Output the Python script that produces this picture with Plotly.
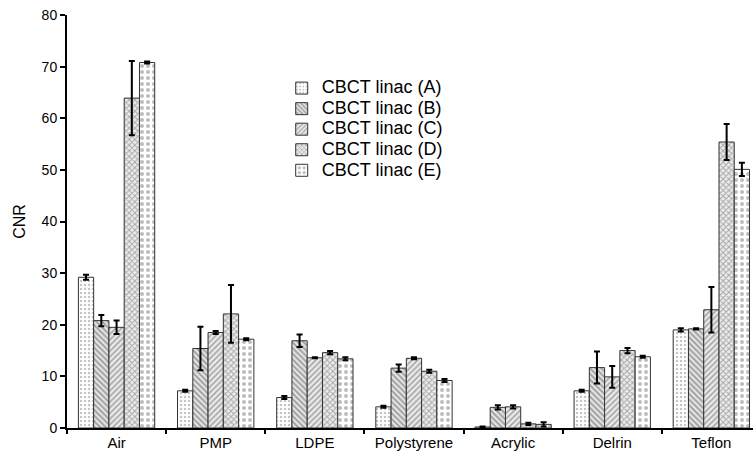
import plotly.graph_objects as go

categories = ["Air", "PMP", "LDPE", "Polystyrene", "Acrylic", "Delrin", "Teflon"]
series_names = ["CBCT linac (A)", "CBCT linac (B)", "CBCT linac (C)", "CBCT linac (D)", "CBCT linac (E)"]

vals_A = [29.2, 7.2, 5.9, 4.1, 0.2, 7.2, 19.0]
vals_B = [20.8, 15.4, 16.9, 11.6, 4.0, 11.7, 19.2]
vals_C = [19.5, 18.5, 13.6, 13.5, 4.1, 9.9, 22.9]
vals_D = [63.9, 22.1, 14.6, 11.0, 0.8, 15.0, 55.4]
vals_E = [70.8, 17.2, 13.4, 9.2, 0.7, 13.8, 50.1]

err_A = [0.5, 0.2, 0.3, 0.2, 0.1, 0.2, 0.3]
err_B = [1.1, 4.2, 1.2, 0.7, 0.4, 3.1, 0.1]
err_C = [1.3, 0.3, 0.1, 0.2, 0.3, 2.1, 4.4]
err_D = [7.2, 5.6, 0.3, 0.3, 0.2, 0.5, 3.5]
err_E = [0.2, 0.2, 0.3, 0.3, 0.4, 0.2, 1.3]

values = [vals_A, vals_B, vals_C, vals_D, vals_E]
errors = [err_A, err_B, err_C, err_D, err_E]
patterns = [
    dict(shape=".", fgcolor="#8a8a8a", bgcolor="white", size=4, solidity=0.3),
    dict(shape="\\", fgcolor="#5a5a5a", bgcolor="#e8e8e8", size=4, solidity=0.5),
    dict(shape="/", fgcolor="#666666", bgcolor="#ececec", size=4, solidity=0.45),
    dict(shape="x", fgcolor="#666666", bgcolor="#ececec", size=4, solidity=0.45),
    dict(shape=".", fgcolor="#7a7a7a", bgcolor="white", size=6, solidity=0.35),
]

fig = go.Figure()
for name, v, e, p in zip(series_names, values, errors, patterns):
    fig.add_trace(go.Bar(
        x=categories, y=v,
        name='<span style="font-size:18px">' + name + '</span>',
        marker=dict(color="white", pattern=p, line=dict(color="#333333", width=1)),
        error_y=dict(type="data", array=e, visible=True, color="black", thickness=2, width=3),
    ))

fig.update_layout(
    width=753, height=464,
    margin=dict(l=67, r=0, t=15, b=36, autoexpand=False),
    paper_bgcolor="white", plot_bgcolor="white",
    barmode="group", bargap=0.23, bargroupgap=0,
    font=dict(family="Liberation Sans, Arial, sans-serif", size=14, color="black"),
    showlegend=True,
    legend=dict(x=0.313, y=0.86, xanchor="left", yanchor="top",
                font=dict(size=13.5), bgcolor="rgba(0,0,0,0)",
                tracegroupgap=0, itemwidth=30),
    xaxis=dict(range=[-0.5, 6.42], showline=True, linecolor="black", linewidth=2,
               ticks="outside", tickson="boundaries", ticklen=4, tickwidth=2,
               tickcolor="black", showgrid=False, tickfont=dict(size=15),
               automargin=False),
    yaxis=dict(range=[0, 80], dtick=10, showline=True, linecolor="black", linewidth=2,
               ticks="outside", ticklen=5, tickwidth=2, tickcolor="black",
               showgrid=False, zeroline=False, tickfont=dict(size=14),
               automargin=False,
               title=dict(text="CNR", font=dict(size=16), standoff=12)),
)

fig.write_html("out.html", config={"displayModeBar": False},
               post_script="document.body.style.margin='0';document.body.style.overflow='hidden';")
